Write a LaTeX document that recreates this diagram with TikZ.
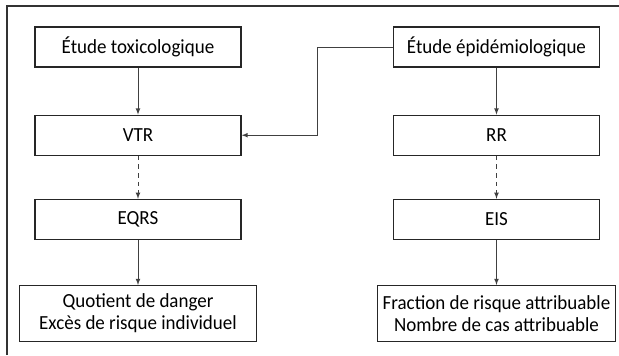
\documentclass[tikz,border=0pt]{standalone}
\usepackage{fontspec}
\setmainfont[FakeStretch=0.95]{Carlito}
\usetikzlibrary{arrows,positioning,calc}

\tikzset{rect/.style={
    draw,
    rectangle,
    line width=0.9pt,
    draw=black!85,
    minimum width=154.5pt,
    minimum height=30pt,
    inner sep=1pt,
    align=center,
    font=\fontsize{15}{16.5}\selectfont,
  }}
\tikzset{wide_rect/.style={
    rect,
    minimum width=178pt,
    minimum height=42pt,
  }}

\begin{document}
\begin{tikzpicture}[x=0.75pt,y=-0.75pt,
        link/.style={-latex,line width=0.6pt,draw=black!75},
        dash_link/.style={link,dash pattern=on 3.5pt off 3pt}]

        \useasboundingbox (0,0) rectangle (619,355);
        % Frame
        \draw[line width=0.8pt,black!80] (7,355) -- (7,6) -- (619,6);

        % Left column
        \node (toxico) [rect] at (138,47) {Étude toxicologique};
        \node (vtr) [rect, below=35.25pt of toxico] {VTR};
        \node (eqrs) [rect, below=32.25pt of vtr] {EQRS};
        \node (quotient) [wide_rect, below=33.75pt of eqrs] {Quotient de danger\\Excès de risque individuel};

        % Right column
        \node (epidemio) [rect] at (496.5,47) {Étude épidémiologique};
        \node (rr) [rect, below=35.25pt of epidemio] {RR};
        \node (eis) [rect, below=32.25pt of rr] {EIS};
        \node (fraction) [wide_rect, below=33.75pt of eis] {Fraction de risque attribuable\\Nombre de cas attribuable};

        \draw [link] (toxico) -- (vtr);
        \draw [dash_link] (vtr) -- (eqrs);
        \draw [link] (eqrs) -- (quotient);

        \draw [link] (epidemio) -- (rr);
        \draw [dash_link] (rr) -- (eis);
        \draw [link] (eis) -- (fraction);

        % cross link
        \draw [link] (epidemio.west) -| ($(vtr.east)!0.5!(rr.west)$) |- (vtr.east);

      \end{tikzpicture}
\end{document}
